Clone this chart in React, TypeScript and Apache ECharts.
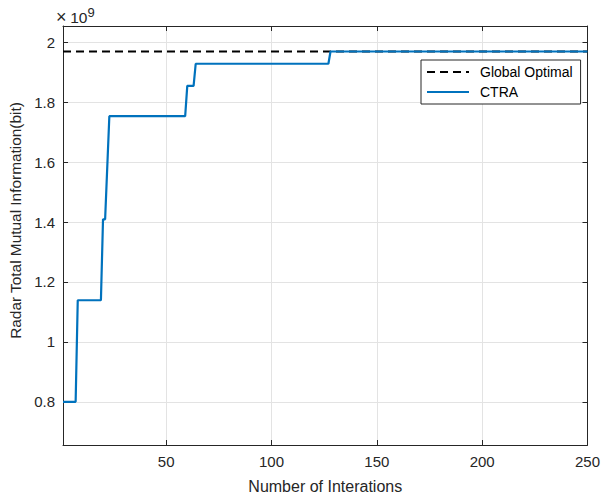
import React, { useEffect, useRef } from "react";
import * as echarts from "echarts";

// Data (y values in units of 1e9 bit)
const xMin = 1;
const xMax = 250;
const yMin = 0.656;
const yMax = 2.054;
const xTicks = [50, 100, 150, 200, 250];
const yTicks = [0.8, 1, 1.2, 1.4, 1.6, 1.8, 2];
const globalOptimal: [number, number][] = [
  [1, 1.969],
  [250, 1.969],
];
const ctra: [number, number][] = [
  [1, 0.8],
  [7, 0.8],
  [8, 1.139],
  [19, 1.139],
  [20, 1.409],
  [21, 1.409],
  [23, 1.753],
  [59, 1.753],
  [60, 1.854],
  [63, 1.854],
  [64, 1.928],
  [127, 1.928],
  [128, 1.969],
  [250, 1.969],
];
const seriesNames = ["Global Optimal", "CTRA"];
const xName = "Number of Interations";
const yName = "Radar Total Mutual Information(bit)";

const FONT = "'Liberation Sans', Arial, Helvetica, sans-serif";
const AXIS = "#262626";
const GRID = "#e3e3e3";

export default function App() {
  const ref = useRef<HTMLDivElement>(null);
  useEffect(() => {
    document.body.style.margin = "0";
    if (!ref.current) return;
    const chart = echarts.init(ref.current, undefined, { renderer: "svg" });
    const tickCommon = { inside: true, length: 5, lineStyle: { color: AXIS, width: 1 } };
    const lineCommon = { show: true, onZero: false, lineStyle: { color: AXIS, width: 1 } };
    chart.setOption({
      animation: false,
      backgroundColor: "#fff",
      textStyle: { fontFamily: FONT },
      grid: { left: 58, right: 14, top: 26, bottom: 54, containLabel: false },
      legend: {
        data: seriesNames,
        orient: "vertical",
        left: 421,
        top: 60,
        itemWidth: 42,
        itemHeight: 14,
        itemGap: 6,
        padding: [5, 8, 5, 5],
        borderColor: AXIS,
        borderWidth: 1,
        backgroundColor: "#fff",
        borderRadius: 0,
        itemStyle: { color: "rgba(0,0,0,0)", borderColor: "rgba(0,0,0,0)", borderWidth: 0, opacity: 0 },
        textStyle: { fontSize: 14, color: "#000", fontFamily: FONT, padding: [0, 0, 0, 6] },
      },
      xAxis: [
        {
          type: "value",
          min: xMin,
          max: xMax,
          position: "bottom",
          name: xName,
          nameLocation: "middle",
          nameGap: 33,
          nameTextStyle: { fontSize: 16, color: AXIS, fontFamily: FONT },
          axisLine: lineCommon,
          axisTick: { ...tickCommon, customValues: xTicks },
          axisLabel: { customValues: xTicks, fontSize: 15, color: AXIS, margin: 9, fontFamily: FONT },
          splitLine: { show: true, lineStyle: { color: GRID, width: 1 } },
        },
        {
          type: "value",
          min: xMin,
          max: xMax,
          position: "top",
          axisLine: lineCommon,
          axisTick: { ...tickCommon, customValues: xTicks },
          axisLabel: { show: false },
          splitLine: { show: false },
        },
      ],
      yAxis: [
        {
          type: "value",
          min: yMin,
          max: yMax,
          position: "left",
          name: yName,
          nameLocation: "middle",
          nameGap: 40,
          nameTextStyle: { fontSize: 15.4, color: AXIS, fontFamily: FONT, padding: [0, 0, 0, 30] },
          axisLine: lineCommon,
          axisTick: { ...tickCommon, customValues: yTicks },
          axisLabel: { customValues: yTicks, fontSize: 15, color: AXIS, margin: 8, fontFamily: FONT },
          splitLine: { show: true, lineStyle: { color: GRID, width: 1 } },
        },
        {
          type: "value",
          min: yMin,
          max: yMax,
          position: "right",
          axisLine: lineCommon,
          axisTick: { ...tickCommon, customValues: yTicks },
          axisLabel: { show: false },
          splitLine: { show: false },
        },
      ],
      graphic: [
        {
          type: "text",
          style: { x: 56, y: 17, text: "×", fontSize: 18, fontFamily: FONT, fill: AXIS, verticalAlign: "middle", align: "left" },
        },
        {
          type: "text",
          style: { x: 87.5, y: 17, text: "10", fontSize: 15.5, fontFamily: FONT, fill: AXIS, verticalAlign: "middle", align: "right" },
        },
        {
          type: "text",
          style: { x: 87.5, y: 12, text: "9", fontSize: 13, fontFamily: FONT, fill: AXIS, verticalAlign: "middle", align: "left" },
        },
      ],
      series: [
        {
          name: seriesNames[0],
          type: "line",
          data: globalOptimal,
          symbol: "none",
          color: "#000000",
          lineStyle: { color: "#000000", width: 2, type: [8, 5] },
        },
        {
          name: seriesNames[1],
          type: "line",
          data: ctra,
          symbol: "none",
          color: "#0072BD",
          lineStyle: { color: "#0072BD", width: 2.2 },
        },
      ],
    });
    return () => chart.dispose();
  }, []);
  return <div ref={ref} style={{ width: 603, height: 499 }} />;
}
